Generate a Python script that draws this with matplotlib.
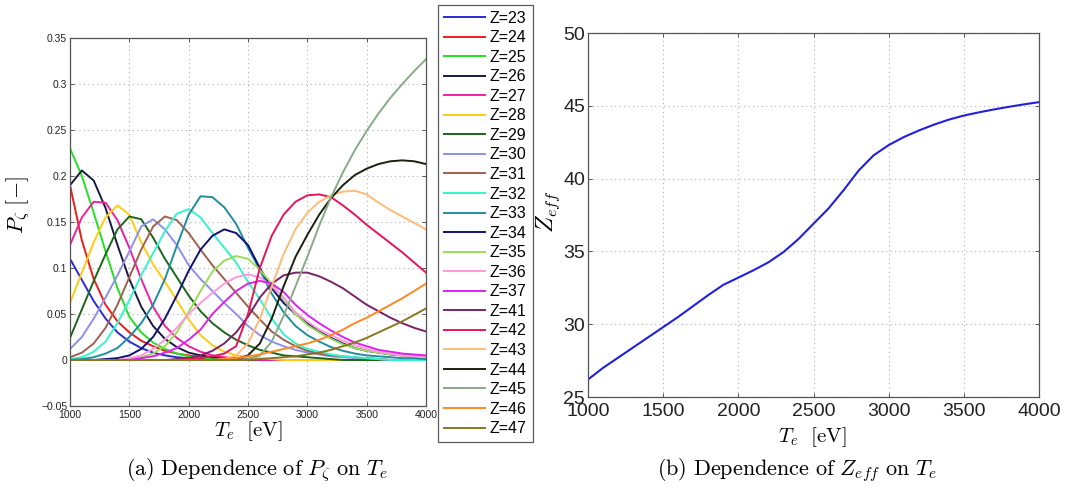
import matplotlib
matplotlib.use('Agg')
import matplotlib.pyplot as plt

plt.rcParams['mathtext.fontset'] = 'cm'
plt.rcParams['font.family'] = ['Liberation Sans', 'DejaVu Sans']

# ---------------- data ----------------
T = [1000, 1100, 1200, 1300, 1400, 1500, 1600, 1700, 1800, 1900, 2000,
     2100, 2200, 2300, 2400, 2500, 2600, 2700, 2800, 2900, 3000,
     3100, 3200, 3300, 3400, 3500, 3600, 3700, 3800, 3900, 4000]

p23 = [0.110, 0.087, 0.064, 0.045, 0.030, 0.020, 0.013, 0.008, 0.005, 0.003, 0.002, 0.001, 0.001,
       0, 0, 0, 0, 0, 0, 0, 0, 0, 0, 0, 0, 0, 0, 0, 0, 0, 0]
p24 = [0.190, 0.130, 0.088, 0.060, 0.042, 0.030, 0.021, 0.015, 0.010, 0.007, 0.005, 0.003, 0.002,
       0.001, 0.001, 0, 0, 0, 0, 0, 0, 0, 0, 0, 0, 0, 0, 0, 0, 0, 0]
p25 = [0.230, 0.200, 0.160, 0.118, 0.078, 0.047, 0.030, 0.019, 0.012, 0.007, 0.004, 0.002, 0.001,
       0.001, 0, 0, 0, 0, 0, 0, 0, 0, 0, 0, 0, 0, 0, 0, 0, 0, 0]
p26 = [0.190, 0.206, 0.195, 0.165, 0.125, 0.088, 0.058, 0.037, 0.023, 0.014, 0.008, 0.005, 0.003,
       0.002, 0.001, 0, 0, 0, 0, 0, 0, 0, 0, 0, 0, 0, 0, 0, 0, 0, 0]
p27 = [0.125, 0.155, 0.172, 0.171, 0.152, 0.122, 0.088, 0.058, 0.037, 0.024, 0.015, 0.009, 0.005,
       0.003, 0.002, 0.001, 0, 0, 0, 0, 0, 0, 0, 0, 0, 0, 0, 0, 0, 0, 0]
p28 = [0.062, 0.095, 0.128, 0.155, 0.168, 0.158, 0.128, 0.104, 0.085, 0.065, 0.044, 0.027, 0.016,
       0.009, 0.005, 0.003, 0.002, 0.001, 0, 0, 0, 0, 0, 0, 0, 0, 0, 0, 0, 0, 0]
p29 = [0.024, 0.055, 0.086, 0.115, 0.142, 0.156, 0.153, 0.133, 0.110, 0.090, 0.070, 0.053, 0.040,
       0.030, 0.022, 0.016, 0.011, 0.008, 0.005, 0.004, 0.003, 0.002, 0.001, 0, 0, 0, 0, 0, 0, 0, 0]
p30 = [0.012, 0.025, 0.045, 0.068, 0.092, 0.118, 0.145, 0.153, 0.142, 0.125, 0.103, 0.088, 0.075,
       0.062, 0.050, 0.037, 0.027, 0.020, 0.015, 0.011, 0.008, 0.006, 0.004, 0.003, 0.002, 0.002,
       0.001, 0, 0, 0, 0]
p31 = [0.003, 0.008, 0.018, 0.035, 0.060, 0.090, 0.120, 0.145, 0.156, 0.152, 0.138, 0.120, 0.103,
       0.088, 0.073, 0.058, 0.044, 0.031, 0.022, 0.015, 0.010, 0.007, 0.005, 0.004, 0.003, 0.002,
       0.001, 0, 0, 0, 0]
p32 = [0.001, 0.003, 0.009, 0.020, 0.040, 0.065, 0.092, 0.116, 0.140, 0.159, 0.164, 0.155, 0.138,
       0.122, 0.106, 0.085, 0.066, 0.045, 0.028, 0.018, 0.012, 0.009, 0.006, 0.004, 0.003, 0.002,
       0.001, 0, 0, 0, 0]
p33 = [0, 0.001, 0.003, 0.007, 0.013, 0.025, 0.040, 0.060, 0.088, 0.124, 0.158, 0.178, 0.177,
       0.166, 0.148, 0.122, 0.098, 0.072, 0.052, 0.037, 0.027, 0.020, 0.014, 0.010, 0.007, 0.005,
       0.004, 0.003, 0.002, 0.002, 0.001]
p34 = [0, 0, 0, 0.001, 0.002, 0.005, 0.012, 0.025, 0.045, 0.070, 0.097, 0.120, 0.135,
       0.142, 0.138, 0.125, 0.100, 0.078, 0.062, 0.050, 0.040, 0.031, 0.024, 0.018, 0.013, 0.010,
       0.008, 0.006, 0.005, 0.004, 0.003]
p35 = [0, 0, 0, 0, 0, 0.001, 0.003, 0.007, 0.015, 0.030, 0.052, 0.075, 0.096,
       0.108, 0.113, 0.110, 0.098, 0.083, 0.066, 0.050, 0.038, 0.030, 0.023, 0.017, 0.013, 0.010,
       0.008, 0.006, 0.005, 0.004, 0.003]
p36 = [0, 0, 0, 0, 0, 0.002, 0.005, 0.012, 0.022, 0.035, 0.050, 0.062, 0.073,
       0.083, 0.090, 0.093, 0.090, 0.080, 0.068, 0.052, 0.042, 0.033, 0.027, 0.021, 0.016, 0.012,
       0.009, 0.007, 0.005, 0.004, 0.003]
p37 = [0, 0, 0, 0, 0, 0, 0.002, 0.004, 0.008, 0.013, 0.022, 0.033, 0.050,
       0.063, 0.075, 0.083, 0.086, 0.083, 0.074, 0.060, 0.049, 0.040, 0.032, 0.025, 0.019, 0.015,
       0.011, 0.009, 0.007, 0.006, 0.005]
p41 = [0, 0, 0, 0, 0, 0, 0, 0, 0, 0.001, 0.002, 0.005, 0.010,
       0.018, 0.030, 0.047, 0.068, 0.083, 0.092, 0.095, 0.095, 0.091, 0.085, 0.078, 0.069, 0.060,
       0.053, 0.046, 0.040, 0.035, 0.031]
p42 = [0, 0, 0, 0, 0, 0, 0, 0, 0, 0, 0.001, 0.002, 0.004,
       0.007, 0.015, 0.050, 0.100, 0.135, 0.158, 0.172, 0.179, 0.180, 0.177, 0.168, 0.158, 0.147,
       0.137, 0.127, 0.117, 0.106, 0.095]
p43 = [0, 0, 0, 0, 0, 0, 0, 0, 0, 0, 0, 0, 0,
       0.001, 0.005, 0.018, 0.045, 0.080, 0.115, 0.142, 0.160, 0.172, 0.179, 0.183, 0.184, 0.180,
       0.171, 0.163, 0.156, 0.149, 0.142]
p44 = [0, 0, 0, 0, 0, 0, 0, 0, 0, 0, 0, 0, 0,
       0, 0.001, 0.005, 0.018, 0.045, 0.080, 0.112, 0.136, 0.158, 0.176, 0.190, 0.201, 0.208,
       0.213, 0.216, 0.217, 0.216, 0.213]
p45 = [0, 0, 0, 0, 0, 0, 0, 0, 0, 0, 0, 0, 0,
       0, 0, 0.001, 0.005, 0.020, 0.048, 0.080, 0.112, 0.146, 0.177, 0.204, 0.228, 0.249,
       0.268, 0.285, 0.300, 0.314, 0.327]
p46 = [0, 0, 0, 0, 0, 0, 0, 0, 0, 0, 0, 0, 0,
       0.001, 0.002, 0.004, 0.006, 0.009, 0.012, 0.015, 0.018, 0.022, 0.027, 0.033, 0.040, 0.046,
       0.053, 0.060, 0.067, 0.075, 0.083]
p47 = [0, 0, 0, 0, 0, 0, 0, 0, 0, 0, 0, 0, 0,
       0, 0, 0, 0.001, 0.002, 0.003, 0.004, 0.006, 0.008, 0.011, 0.015, 0.019, 0.024,
       0.030, 0.036, 0.042, 0.049, 0.056]

charge_states = [23, 24, 25, 26, 27, 28, 29, 30, 31, 32, 33, 34, 35, 36, 37,
                 41, 42, 43, 44, 45, 46, 47]
series = [p23, p24, p25, p26, p27, p28, p29, p30, p31, p32, p33, p34, p35, p36, p37,
          p41, p42, p43, p44, p45, p46, p47]
colors = ['#2a2ad8', '#ee1c1c', '#22e022', '#1a1a40', '#f020a0', '#ffcc11', '#1a661a',
          '#8f8ff0', '#a06050', '#33f5c8', '#1f8fa0', '#10107a', '#99dd55', '#ff99dd',
          '#dd22ee', '#7a2266', '#e8145a', '#ffbb77', '#1a2010', '#88aa88', '#ff8822',
          '#887722']

zeff = [26.2, 27.0, 27.7, 28.4, 29.1, 29.8, 30.5, 31.25, 32.0, 32.7, 33.2,
        33.7, 34.25, 34.95, 35.85, 36.9, 37.95, 39.2, 40.55, 41.6, 42.3,
        42.85, 43.3, 43.7, 44.05, 44.33, 44.55, 44.75, 44.93, 45.1, 45.25]

x_ticks = [1000, 1500, 2000, 2500, 3000, 3500, 4000]
y1_ticks = [-0.05, 0, 0.05, 0.1, 0.15, 0.2, 0.25, 0.3, 0.35]
y1_labels = ['\u22120.05', '0', '0.05', '0.1', '0.15', '0.2', '0.25', '0.3', '0.35']
y2_ticks = [25, 30, 35, 40, 45, 50]

# ---------------- figure ----------------
W, H = 1078, 495
fig = plt.figure(figsize=(W / 100, H / 100), dpi=100)

def frac_box(l, t, r, b):
    return [l / W, 1 - b / H, (r - l) / W, (b - t) / H]

def style_axes(ax, lsize, xpad):
    ax.grid(True, linestyle=(0, (1, 3)), color='#b0b0b0', linewidth=0.8)
    ax.set_axisbelow(True)
    for s in ax.spines.values():
        s.set_color('#555555')
        s.set_linewidth(0.9)
    ax.tick_params(direction='in', length=3, width=0.7, top=True, right=True,
                   colors='#555555', labelcolor='#222222', labelsize=lsize, pad=2)
    ax.tick_params(axis='x', pad=xpad)

# left panel
ax1 = fig.add_axes(frac_box(70, 38, 426, 406))
lines = []
for z, ys, c in zip(charge_states, series, colors):
    ln, = ax1.plot(T, ys, color=c, lw=1.4, label='Z=%d' % z)
    lines.append(ln)
ax1.set_xlim(1000, 4000)
ax1.set_ylim(-0.05, 0.35)
ax1.set_xticks(x_ticks)
ax1.set_yticks(y1_ticks)
ax1.set_yticklabels(y1_labels)
style_axes(ax1, 7.5, 3)

fig.text(18 / W, 1 - 205 / H, r'$P_\zeta\ [-]$', rotation=90, ha='center', va='center',
         fontsize=16)
fig.text(248 / W, 1 - 431 / H, r'$T_e\ \ [\mathrm{eV}]$', ha='center', va='center',
         fontsize=15)

leg = fig.legend(lines, [l.get_label() for l in lines], loc='upper left',
                 bbox_to_anchor=(438 / W, 1 - 5 / H), frameon=True, fancybox=False,
                 edgecolor='#333333', fontsize=11.5, handlelength=2.6, handletextpad=0.3,
                 labelspacing=0.285, borderpad=0.35, borderaxespad=0)
leg.get_frame().set_linewidth(0.9)

# right panel
ax2 = fig.add_axes(frac_box(588, 33, 1039, 397))
ax2.plot(T, zeff, color='#2020dd', lw=1.5)
ax2.set_xlim(1000, 4000)
ax2.set_ylim(25, 50)
ax2.set_xticks(x_ticks)
ax2.set_yticks(y2_ticks)
style_axes(ax2, 14, 4)

fig.text(548 / W, 1 - 212 / H, r'$Z_{eff}$', rotation=90, ha='center', va='center',
         fontsize=17)
fig.text(812 / W, 1 - 437 / H, r'$T_e\ \ [\mathrm{eV}]$', ha='center', va='center',
         fontsize=15)

# captions
fig.text(257 / W, 1 - 470 / H, r'$\mathrm{(a)\ Dependence\ of\ }P_\zeta\mathrm{\ on\ }T_e$',
         ha='center', va='center', fontsize=16)
fig.text(797 / W, 1 - 470 / H, r'$\mathrm{(b)\ Dependence\ of\ }Z_{eff}\mathrm{\ on\ }T_e$',
         ha='center', va='center', fontsize=16)

fig.savefig('out.png', dpi=100)
